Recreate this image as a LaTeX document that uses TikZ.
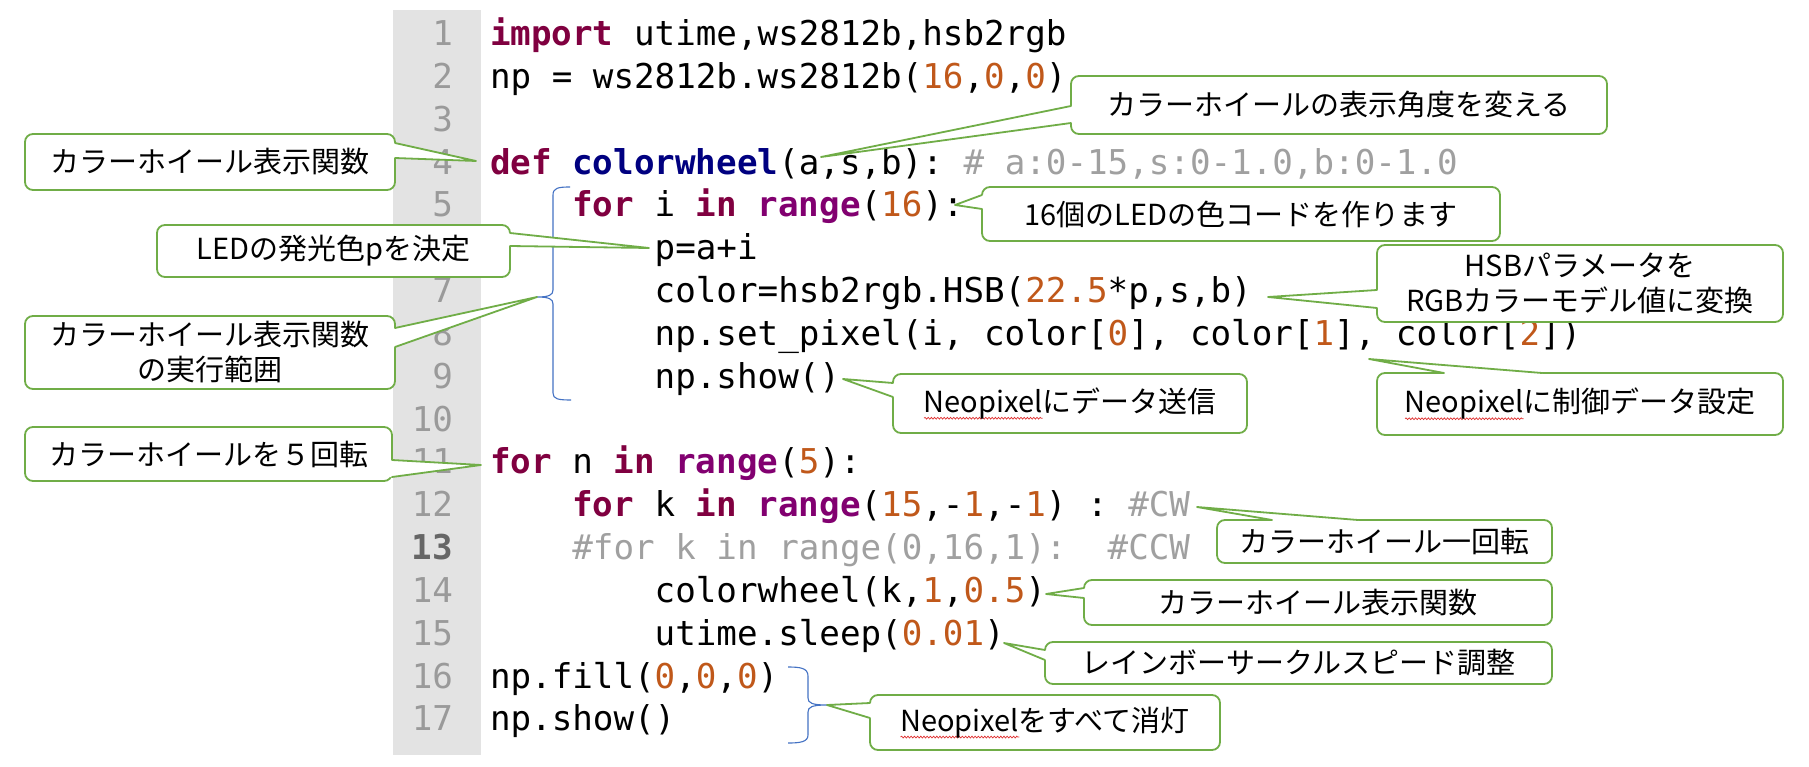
\documentclass[tikz,border=0pt]{standalone}
\usepackage{fontspec}
\usetikzlibrary{calc,decorations.pathmorphing}
\newfontfamily\codefont{DejaVu Sans Mono}
\newfontfamily\jpfont{Noto Sans CJK JP}
\definecolor{kwc}{HTML}{800040}
\definecolor{bic}{HTML}{820070}
\definecolor{fnc}{HTML}{000080}
\definecolor{nmc}{HTML}{C0581A}
\definecolor{cmc}{HTML}{A0A0A0}
\definecolor{lnc}{HTML}{9A9A9A}
\definecolor{gutterc}{HTML}{E3E3E3}
\definecolor{cgreen}{HTML}{70AD47}
\definecolor{bluebr}{HTML}{4472C4}
\definecolor{wavyc}{HTML}{E03030}
\newcommand\Kw[1]{\textcolor{kwc}{\bfseries #1}}
\newcommand\Bi[1]{\textcolor{bic}{\bfseries #1}}
\newcommand\Fn[1]{\textcolor{fnc}{\bfseries #1}}
\newcommand\Nm[1]{\textcolor{nmc}{#1}}
\newcommand\Cm[1]{\textcolor{cmc}{#1}}
\newsavebox\wvbox
\newcommand\wv[1]{\sbox\wvbox{#1}\rlap{\raisebox{-6pt}{\tikz[x=1pt,y=1pt,baseline=0pt]\draw[wavyc,line width=0.7pt,sharp corners,decorate,decoration={snake,amplitude=0.9pt,segment length=3.2pt}] (0pt,0pt) -- (\the\wd\wvbox,0pt);}}\usebox\wvbox}
\newcommand\cbox[6]{\node[cbox, minimum width={(#4-#2)*1pt}, minimum height={(#5-#3)*1pt}] (#1) at ({(#2+#4)/2},{(#3+#5)/2}) {#6};}
\newcommand\ptrL[4]{%
  \coordinate (#1-a) at (#1.west |- 0,#2);
  \coordinate (#1-b) at (#1.west |- 0,#3);
  \fill[white] (#1-a) -- (#4) -- (#1-b) -- ([xshift=2.6pt]#1-b) -- ([xshift=2.6pt]#1-a) -- cycle;
  \draw[ptr] (#1-a) -- (#4) -- (#1-b);}
\newcommand\ptrR[4]{%
  \coordinate (#1-a) at (#1.east |- 0,#2);
  \coordinate (#1-b) at (#1.east |- 0,#3);
  \fill[white] (#1-a) -- (#4) -- (#1-b) -- ([xshift=-2.6pt]#1-b) -- ([xshift=-2.6pt]#1-a) -- cycle;
  \draw[ptr] (#1-a) -- (#4) -- (#1-b);}
\newcommand\ptrT[4]{%
  \coordinate (#1-a) at (#2,0 |- #1.north);
  \coordinate (#1-b) at (#3,0 |- #1.north);
  \fill[white] (#1-a) -- (#4) -- (#1-b) -- ([yshift=-2.6pt]#1-b) -- ([yshift=-2.6pt]#1-a) -- cycle;
  \draw[ptr] (#1-a) -- (#4) -- (#1-b);}
\tikzset{
  code/.style={anchor=base west, inner sep=0pt, outer sep=0pt, font=\codefont\fontsize{34.2}{40}\selectfont\frenchspacing},
  lnum/.style={anchor=base east, inner sep=0pt, outer sep=0pt, text=lnc, font=\codefont\fontsize{34.2}{40}\selectfont},
  cbox/.style={draw=cgreen, fill=white, line width=1.8pt, rounded corners=8pt, inner sep=0pt, outer sep=0pt, align=center, text=black, font=\jpfont\fontsize{29}{35}\selectfont},
  ptr/.style={draw=cgreen, line width=1.8pt, line join=round, line cap=round},
  brace/.style={draw=bluebr, line width=1.1pt},
}
\begin{document}
\begin{tikzpicture}[x=1pt,y=-1pt]
\useasboundingbox (0,0) rectangle (1809,767);
\fill[white] (0,0) rectangle (1809,767);
% gutter
\fill[gutterc] (393,10) rectangle (481,755);
% line numbers (6 is hidden under a callout in the reference)
\foreach \n in {1,...,5,7,8,9,10,11,12,14,15,16,17}
  \node[lnum] (ln\n) at (453,{45.5+(\n-1)*42.84}) {\n};
\node[lnum, text=gray!120, font=\codefont\bfseries\fontsize{34.2}{40}\selectfont] (ln13) at (453,559.58) {13};
% code
\node[code] (L1) at (490,45.5) {\Kw{import} utime,ws2812b,hsb2rgb};
\node[code] (L2) at (490,88.34) {np = ws2812b.ws2812b(\Nm{16},\Nm{0},\Nm{0})};
\node[code] (L4) at (490,174.02) {\Kw{def} \Fn{colorwheel}(a,s,b): \Cm{\# a:0-15,s:0-1.0,b:0-1.0}};
\node[code] (L5) at (572.36,216.86) {\Kw{for} i \Kw{in} \Bi{range}(\Nm{16}):};
\node[code] (L6) at (654.72,259.7) {p=a+i};
\node[code] (L7) at (654.72,302.54) {color=hsb2rgb.HSB(\Nm{22.5}*p,s,b)};
\node[code] (L8) at (654.72,345.38) {np.set\_pixel(i, color[\Nm{0}], color[\Nm{1}], color[\Nm{2}])};
\node[code] (L9) at (654.72,388.22) {np.show()};
\node[code] (L11) at (490,473.9) {\Kw{for} n \Kw{in} \Bi{range}(\Nm{5}):};
\node[code] (L12) at (572.36,516.74) {\Kw{for} k \Kw{in} \Bi{range}(\Nm{15},-\Nm{1},-\Nm{1}) : \Cm{\#CW}};
\node[code] (L13) at (572.36,559.58) {\Cm{\#for k in range(0,16,1):~~\#CCW}};
\node[code] (L14) at (654.72,602.42) {colorwheel(k,\Nm{1},\Nm{0.5})};
\node[code] (L15) at (654.72,645.26) {utime.sleep(\Nm{0.01})};
\node[code] (L16) at (490,688.1) {np.fill(\Nm{0},\Nm{0},\Nm{0})};
\node[code] (L17) at (490,730.94) {np.show()};
% braces
\coordinate (nib1) at (537,297);
\coordinate (nib2) at (827,705);
\draw[brace] (570,187) .. controls (558,187) and (553,188) .. (553,195) -- (553,290) .. controls (553,295) and (549,297) .. (nib1) .. controls (549,297) and (553,299) .. (553,304) -- (553,393) .. controls (553,399) and (558,400) .. (571,400);
\draw[brace] (788,667) .. controls (800,667) and (808,668) .. (808,676) -- (808,698) .. controls (808,703) and (812,705) .. (nib2) .. controls (812,705) and (808,707) .. (808,712) -- (808,735) .. controls (808,742) and (800,743) .. (788,743);
% tips
\coordinate (t1) at (821,157);
\coordinate (tA) at (476,161);
\coordinate (t16) at (955,205);
\coordinate (tB) at (649,248);
\coordinate (tHSB) at (1268,297);
\coordinate (tSend) at (843,379);
\coordinate (tSet) at (1369,359);
\coordinate (tD) at (481,465);
\coordinate (tRot) at (1197,507);
\coordinate (tF2) at (1046,594);
\coordinate (tRain) at (1004,643);
% callout boxes
\cbox{c1}{1071}{76}{1607}{134}{カラーホイールの表示角度を変える}
\cbox{cA}{25}{134}{395}{190}{カラーホイール表示関数}
\cbox{c16}{982}{187}{1500}{241}{16個のLEDの色コードを作ります}
\cbox{cB}{157}{225}{510}{277}{LEDの発光色pを決定}
\cbox{cHSB}{1377}{245}{1783}{322}{HSBパラメータを\\RGBカラーモデル値に変換}
\cbox{cC}{25}{316}{395}{389}{カラーホイール表示関数\\の実行範囲}
\cbox{cSend}{893}{374}{1247}{433}{\wv{Neopixel}にデータ送信}
\cbox{cSet}{1377}{373}{1783}{435}{\wv{Neopixel}に制御データ設定}
\cbox{cD}{25}{427}{392}{481}{カラーホイールを５回転}
\cbox{cRot}{1217}{520}{1552}{563}{カラーホイール一回転}
\cbox{cF2}{1084}{580}{1552}{625}{カラーホイール表示関数}
\cbox{cRain}{1045}{642}{1552}{684}{レインボーサークルスピード調整}
\cbox{cOff}{870}{695}{1220}{750}{\wv{Neopixel}をすべて消灯}
% pointers
\ptrL{c1}{106}{123}{t1}
\ptrR{cA}{143}{158}{tA}
\ptrL{c16}{195}{209}{t16}
\ptrR{cB}{233}{246}{tB}
\ptrL{cHSB}{290}{308}{tHSB}
\ptrR{cC}{328}{347}{nib1}
\ptrL{cSend}{383}{397}{tSend}
\ptrT{cSet}{1444}{1542}{tSet}
\ptrR{cD}{460}{477}{tD}
\ptrT{cRot}{1272}{1358}{tRot}
\ptrL{cF2}{588}{598}{tF2}
\ptrL{cRain}{650}{660}{tRain}
\ptrL{cOff}{703}{718}{nib2}
\end{tikzpicture}
\end{document}
